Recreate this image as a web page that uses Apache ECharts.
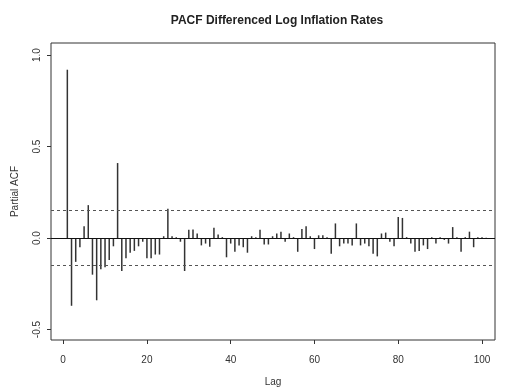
<!DOCTYPE html>
<html>
<head>
<meta charset="utf-8">
<script src="https://cdn.jsdelivr.net/npm/echarts@6/dist/echarts.min.js"></script>
<style>
html,body{margin:0;padding:0;background:#fff;}
#chart{width:507px;height:390px;}
</style>
</head>
<body>
<div id="chart"></div>
<script>
// ---- data ----
const titleText = 'PACF Differenced Log Inflation Rates';
const xName = 'Lag';
const yName = 'Partial ACF';
const lags = [];
for (let i = 1; i <= 101; i++) lags.push(i);
const pacfValues = [
  0.92, -0.37, -0.13, -0.05, 0.065, 0.18, -0.20, -0.34, -0.17, -0.16,
  -0.12, -0.045, 0.41, -0.18, -0.11, -0.08, -0.07, -0.045, -0.02, -0.11,
  -0.11, -0.09, -0.09, 0.01, 0.16, 0.01, 0.005, -0.02, -0.18, 0.045,
  0.047, 0.025, -0.04, -0.03, -0.047, 0.056, 0.02, 0.005, -0.105, -0.03,
  -0.075, -0.04, -0.05, -0.08, 0.01, 0.005, 0.045, -0.035, -0.035, 0.01,
  0.025, 0.035, -0.02, 0.025, 0.005, -0.075, 0.05, 0.065, 0.01, -0.06,
  0.015, 0.015, 0.005, -0.085, 0.08, -0.045, -0.03, -0.03, -0.04, 0.08,
  -0.04, -0.03, -0.045, -0.085, -0.10, 0.025, 0.03, -0.02, -0.045, 0.115,
  0.11, 0.005, -0.03, -0.075, -0.07, -0.04, -0.06, 0.005, -0.03, 0.005,
  -0.01, -0.03, 0.06, 0.005, -0.075, 0.005, 0.035, -0.05, 0.005, 0.005,
  0.002
];
const ciBound = 0.155;
const xTicks = [0, 20, 40, 60, 80, 100];
const yTicks = [-0.5, 0.0, 0.5, 1.0];

// ---- chart ----
const chart = echarts.init(document.getElementById('chart'), null, {renderer: 'canvas'});
const font = '"Liberation Sans", Arial, sans-serif';
const barData = lags.map((l, i) => [l, pacfValues[i]]);

chart.setOption({
  animation: false,
  backgroundColor: '#fff',
  title: {
    text: titleText,
    left: 272, textAlign: 'center', top: 10,
    textStyle: {fontFamily: font, fontSize: 12, fontWeight: 'bold', color: '#222'}
  },
  grid: {left: 51, right: 12, top: 43, bottom: 50, containLabel: false, outerBoundsMode: 'none',
         show: true, borderColor: '#333', borderWidth: 1},
  xAxis: {
    type: 'value', min: -2.9, max: 103.1,
    name: xName, nameLocation: 'middle', nameGap: 37,
    nameTextStyle: {fontFamily: font, fontSize: 10, color: '#333'},
    axisLine: {show: false, onZero: false},
    splitLine: {show: false},
    axisTick: {show: true, length: 4, inside: false, customValues: xTicks, lineStyle: {color: '#333'}},
    axisLabel: {customValues: xTicks, margin: 15, fontFamily: font, fontSize: 10, color: '#333',
                formatter: v => String(v)}
  },
  yAxis: {
    type: 'value', min: -0.557, max: 1.066,
    name: yName, nameLocation: 'middle', nameGap: 31,
    nameTextStyle: {fontFamily: font, fontSize: 10, color: '#333'},
    axisLine: {show: false, onZero: false},
    splitLine: {show: false},
    axisTick: {show: true, length: 4, customValues: yTicks, lineStyle: {color: '#333'}},
    axisLabel: {customValues: yTicks, rotate: 90, margin: 9, fontFamily: font, fontSize: 10, color: '#333',
                formatter: v => v.toFixed(1)}
  },
  series: [
    {
      type: 'bar',
      data: barData,
      barWidth: 1.5,
      itemStyle: {color: '#333'},
      silent: true,
      markLine: {
        silent: true, symbol: 'none', label: {show: false},
        data: [
          {yAxis: 0, lineStyle: {color: '#111', type: 'solid', width: 1}},
          {yAxis: ciBound, lineStyle: {color: '#555', type: [3, 3], width: 1}},
          {yAxis: -ciBound, lineStyle: {color: '#555', type: [3, 3], width: 1}}
        ]
      }
    }
  ]
});
</script>
</body>
</html>
